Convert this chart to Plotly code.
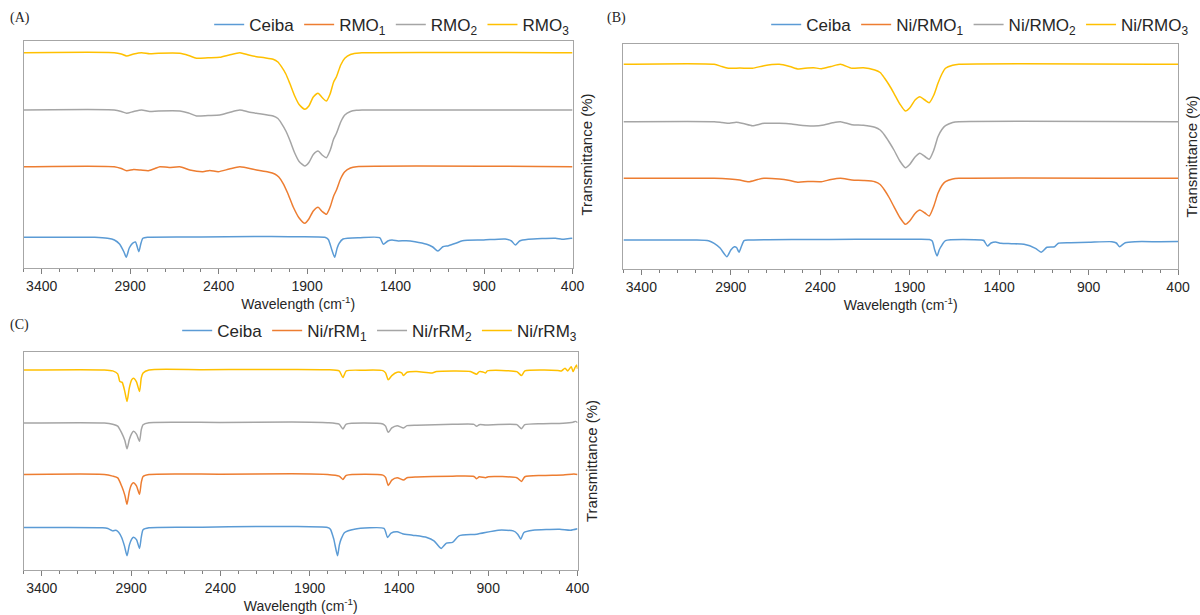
import plotly.graph_objects as go

# ---------------- DATA (arbitrary offset transmittance units) -------------
# Panel A
A_names = ["Ceiba", "RMO<sub>1</sub>", "RMO<sub>2</sub>", "RMO<sub>3</sub>"]
A_ceiba_wn = [3500, 3100, 3028, 2989, 2960, 2935, 2922, 2905, 2887, 2870, 2851, 2840, 2828, 2800, 2500, 2200,
              2000, 1800, 1780, 1760, 1744, 1730, 1719, 1697, 1600, 1490, 1469, 1444, 1420, 1385, 1340, 1290,
              1224, 1190, 1161, 1133, 1101, 1060, 1022, 902, 780, 745, 723, 699, 650, 496, 460, 407, 400]
A_ceiba_t = [30.7, 30.7, 29.7, 28, 24, 16, 10.7, 20, 24.7, 26, 16.3, 24, 29.7, 30.7, 31, 31.5,
             31.3, 30.7, 28.5, 18, 10.7, 20, 24.7, 29, 30.3, 30.3, 23.7, 27, 28, 27, 27.3, 26.3,
             23.7, 21, 17, 21.3, 22.3, 24.7, 27.3, 28, 29, 27, 23, 27, 28.7, 29.7, 28.7, 29.7, 29.5]
A_rmo1_wn = [3500, 2990, 2950, 2920, 2880, 2840, 2797, 2760, 2732, 2680, 2619, 2563, 2489, 2450, 2402, 2340,
             2280, 2186, 2120, 2083, 2060, 2036, 2010, 1979, 1945, 1913, 1890, 1865, 1838, 1815, 1791, 1770,
             1750, 1734, 1710, 1687, 1655, 1621, 400]
A_rmo1_t = [101.3, 101.3, 99.5, 97.3, 98.5, 98, 97.3, 99.5, 101.3, 100.5, 101.3, 98, 96.3, 97.5, 96.3, 99,
            101.3, 98, 96, 94, 91, 84.7, 75, 61.3, 50, 44.7, 49, 57, 60.7, 56.5, 53.7, 61,
            72, 78, 89.5, 96.3, 100, 101.3, 101.3]
A_rmo2_wn = [3500, 2990, 2950, 2920, 2880, 2835, 2790, 2740, 2619, 2570, 2525, 2460, 2393, 2340, 2280, 2230,
             2186, 2140, 2092, 2065, 2045, 2020, 1998, 1970, 1945, 1913, 1890, 1865, 1838, 1815, 1791, 1770,
             1750, 1734, 1710, 1687, 1655, 1621, 1590, 400]
A_rmo2_t = [158, 158, 156.5, 154.7, 156.5, 158, 156.5, 157, 157, 155, 152, 152.5, 153, 155.5, 158, 156,
            154.7, 153.5, 152, 149.5, 144.7, 137, 128, 115, 106.5, 102, 105.5, 113.5, 117, 113, 110.3, 117.5,
            129, 134.7, 146, 153, 156.5, 157.7, 158, 158]
A_rmo3_wn = A_rmo2_wn
A_rmo3_t = [215.3, 215.3, 214, 212, 214, 215.3, 214.2, 214.7, 214.7, 212.5, 209.7, 210.2, 210.7, 213, 215.3, 213,
            211.3, 210.2, 208.7, 206, 201.3, 194, 184.7, 172, 163.5, 158.7, 162, 171, 174.7, 170.5, 167, 174,
            186, 191.3, 203, 209.7, 213.5, 214.7, 215.3, 215.3]

# Panel B
B_names = ["Ceiba", "Ni/RMO<sub>1</sub>", "Ni/RMO<sub>2</sub>", "Ni/RMO<sub>3</sub>"]
B_ceiba_wn = [3500, 3100, 3025, 2993, 2960, 2922, 2900, 2880, 2868, 2854, 2840, 2826, 2800, 2500, 2200, 1900,
              1790, 1774, 1760, 1747, 1735, 1725, 1700, 1500, 1486, 1465, 1445, 1420, 1390, 1330, 1261, 1197,
              1165, 1133, 1090, 1069, 1000, 898, 770, 745, 727, 695, 640, 500, 400]
B_ceiba_t = [29, 29, 28.3, 25.7, 21, 12.3, 19, 22.3, 21.5, 16.7, 23, 28.3, 29, 29.5, 29.7, 29.7,
             29.5, 28, 19, 13, 19, 22.3, 28.3, 29, 28.5, 23, 26, 27, 25.7, 25.3, 24.7, 20.7,
             16.7, 21.7, 22.3, 25.7, 26.2, 26.7, 27.3, 26, 22.3, 26.3, 27.3, 27.3, 27.5]
B_rmo1_wn = [3500, 2993, 2907, 2850, 2800, 2750, 2715, 2629, 2570, 2522, 2470, 2394, 2340, 2287, 2223, 2159,
             2095, 2065, 2041, 2015, 1988, 1955, 1924, 1900, 1870, 1843, 1815, 1791, 1765, 1742, 1720, 1700,
             1660, 1625, 400]
B_rmo1_t = [90.7, 90.7, 90, 89, 87.3, 89.5, 90.7, 90, 88.5, 86.7, 87.5, 87.3, 89.5, 90.7, 89, 88.5,
            87.3, 84.5, 79, 71.5, 62.3, 51.5, 44.7, 48, 55.5, 59, 56, 53, 63, 75.7, 83.5, 87.3,
            90, 90.7, 90.7]
B_rmo2_wn = [3500, 2993, 2950, 2907, 2870, 2830, 2779, 2715, 2629, 2560, 2522, 2437, 2380, 2330, 2287, 2223,
             2159, 2095, 2065, 2041, 2015, 1988, 1955, 1924, 1900, 1870, 1843, 1815, 1791, 1765, 1742, 1720,
             1700, 1660, 1625, 400]
B_rmo2_t = [147.3, 147.3, 146.5, 145.7, 146.7, 145.5, 143.3, 145.7, 145.7, 145, 144, 143, 144, 146.2, 147.3, 144.3,
            143.7, 141.7, 139, 134, 127, 119, 108, 101.3, 104.5, 112, 115.7, 112.5, 109.7, 119, 132.3, 139.5,
            143.3, 146.5, 147.3, 147.3]
B_rmo3_wn = [3500, 2993, 2950, 2907, 2850, 2779, 2715, 2629, 2570, 2522, 2470, 2437, 2394, 2340, 2287, 2223,
             2159, 2095, 2065, 2041, 2015, 1988, 1955, 1924, 1900, 1870, 1843, 1815, 1791, 1765, 1742, 1720,
             1700, 1660, 1625, 400]
B_rmo3_t = [204.7, 204.7, 202.5, 200.7, 201, 200.7, 203.3, 204.7, 202.5, 200, 201, 201.3, 200.3, 202.5, 204.7, 200.7,
            201.3, 199, 196.5, 191, 184, 175.7, 165, 158, 161, 169, 172.3, 169, 166.3, 174, 185.7, 195,
            200.7, 203.7, 204.7, 204.7]

# Panel C
C_names = ["Ceiba", "Ni/rRM<sub>1</sub>", "Ni/rRM<sub>2</sub>", "Ni/rRM<sub>3</sub>"]
C_ceiba_wn = [3500, 3060, 3030, 3003, 2985, 2970, 2953, 2937, 2923, 2910, 2897, 2887, 2870, 2853, 2843, 2833,
              2800, 2500, 2200, 2000, 1800, 1784, 1765, 1744, 1734, 1724, 1704, 1650, 1484, 1464, 1444, 1410,
              1380, 1324, 1244, 1204, 1164, 1134, 1100, 1064, 964, 844, 760, 735, 718, 700, 650, 500, 440, 400]
C_ceiba_t = [42.7, 42.5, 41.7, 39.3, 40, 38, 32.7, 24, 14.3, 25, 31, 33, 30.5, 21.7, 33, 40.5,
             42.5, 43, 43.7, 43.7, 42.7, 41, 31, 14.3, 25, 31, 37.7, 41, 41.7, 32.7, 37, 38.3,
             36.5, 35, 32.7, 29.3, 21.7, 27, 27.7, 34.3, 36, 40, 39.3, 36, 31, 37.7, 40, 41, 40, 41.5]
C_rm1_wn = [3500, 3050, 3003, 2975, 2953, 2935, 2923, 2910, 2897, 2887, 2870, 2853, 2843, 2833, 2800, 2400,
            2000, 1800, 1735, 1714, 1695, 1490, 1475, 1460, 1440, 1410, 1374, 1355, 1300, 1100, 980, 965,
            950, 915, 900, 740, 714, 695, 600, 480, 420, 400]
C_rm1_t = [96, 96, 94.3, 92.5, 84.3, 75, 66, 79, 86, 87.7, 84.5, 76, 88, 94, 96, 96.3,
           96.7, 96, 94.3, 91, 95, 95.3, 93, 85, 90.3, 92.7, 90.3, 92.7, 93.5, 94.3, 94, 91.7,
           93.7, 92.7, 93.7, 92.7, 89, 93.7, 95, 95.5, 96.5, 96]
C_rm2_wn = [3500, 3050, 3003, 2975, 2953, 2935, 2923, 2910, 2897, 2887, 2870, 2853, 2843, 2833, 2800, 2400,
            2000, 1800, 1735, 1714, 1695, 1490, 1475, 1460, 1440, 1410, 1374, 1355, 1300, 1100, 980, 965,
            950, 915, 740, 714, 695, 600, 480, 425, 410, 400]
C_rm2_t = [147.7, 147.7, 146.5, 144.5, 137.7, 130, 121.7, 131, 137, 139.3, 136.5, 129.3, 141, 146, 148, 148.2,
           148.7, 148, 146.5, 141.7, 146.5, 146.7, 144.5, 138.3, 142.7, 145, 142.7, 145, 145.5, 146.3, 146.3, 144.3,
           146, 145.7, 146, 142, 146, 147, 147.5, 148.5, 149.3, 148]
C_rm3_wn = [3500, 3050, 3003, 2975, 2963, 2950, 2935, 2923, 2910, 2897, 2887, 2870, 2853, 2843, 2833, 2800,
            2500, 2200, 2000, 1800, 1735, 1714, 1695, 1600, 1490, 1475, 1460, 1440, 1410, 1385, 1374, 1355,
            1300, 1214, 1190, 1000, 965, 950, 930, 915, 905, 740, 714, 695, 600, 510, 490, 470, 455, 435,
            425, 415, 405, 400]
C_rm3_t = [201, 201, 200, 197, 189.3, 188.5, 179, 169.3, 183, 191, 192.7, 189, 179.3, 193, 198, 201,
           201.2, 201.5, 201.5, 201.2, 200, 193.3, 200, 200.7, 200.3, 198, 191, 195.3, 198.7, 198, 195.3, 198.7,
           199.3, 198, 199.3, 199.3, 196.7, 199.3, 199, 198, 200, 199.3, 195.3, 200, 201, 200.5, 200, 202.7, 200, 204.3,
           199.3, 203, 206, 202]

COLORS = ["#5B9BD5", "#ED7D31", "#A5A5A5", "#FFC000"]

# layout positions are expressed in reference-picture pixels (1200 x 615)
REF_W, REF_H = 1200, 615
FIG_W, FIG_H = 1211, 615


def fx(p):
    return p / REF_W


def fy(p):
    return 1 - p / REF_H


panels = [
    dict(names=A_names, x=[A_ceiba_wn, A_rmo1_wn, A_rmo2_wn, A_rmo3_wn],
         y=[A_ceiba_t, A_rmo1_t, A_rmo2_t, A_rmo3_t], yr=[0, 227],
         xdom=[fx(24), fx(573)], ydom=[fy(268), fy(41)], label="(A)", lab=(8, 18),
         leg=(392, 25)),
    dict(names=B_names, x=[B_ceiba_wn, B_rmo1_wn, B_rmo2_wn, B_rmo3_wn],
         y=[B_ceiba_t, B_rmo1_t, B_rmo2_t, B_rmo3_t], yr=[0, 225],
         xdom=[fx(624), fx(1179)], ydom=[fy(269), fy(44)], label="(B)", lab=(606, 18),
         leg=(981, 25)),
    dict(names=C_names, x=[C_ceiba_wn, C_rm1_wn, C_rm2_wn, C_rm3_wn],
         y=[C_ceiba_t, C_rm1_t, C_rm2_t, C_rm3_t], yr=[0, 219],
         xdom=[fx(24), fx(578)], ydom=[fy(570), fy(352)], label="(C)", lab=(8, 325),
         leg=(380, 331)),
]

FONT = "Liberation Sans, Arial, sans-serif"
fig = go.Figure()
layout = dict(
    width=FIG_W, height=FIG_H, autosize=False, margin=dict(l=0, r=0, t=0, b=0, pad=0),
    paper_bgcolor="white", plot_bgcolor="white",
    font=dict(family=FONT, color="#262626"),
    annotations=[],
)

for i, p in enumerate(panels):
    n = "" if i == 0 else str(i + 1)
    legname = "legend" + n
    for k in range(4):
        fig.add_trace(go.Scatter(
            x=p["x"][k], y=p["y"][k], mode="lines", name=p["names"][k],
            line=dict(color=COLORS[k], width=1.5, shape="spline", smoothing=0.6),
            xaxis="x" + n, yaxis="y" + n, legend=legname,
        ))
    layout["xaxis" + n] = dict(
        domain=p["xdom"], anchor="y" + n, range=[3500, 400],
        showline=True, linecolor="#A6A6A6", linewidth=1, mirror=True,
        showgrid=False, zeroline=False,
        ticks="outside", ticklen=5, tickcolor="#7F7F7F", tick0=400, dtick=500,
        minor=dict(ticks="outside", ticklen=3, tickcolor="#7F7F7F", dtick=100, tick0=400, showgrid=False),
        tickfont=dict(size=14, family=FONT, color="#262626"),
        title=dict(text="Wavelength (cm<sup>-1</sup>)", font=dict(size=14, family=FONT, color="#262626"),
                   standoff=0),
    )
    layout["yaxis" + n] = dict(
        domain=p["ydom"], anchor="x" + n, range=p["yr"], side="right",
        showline=True, linecolor="#A6A6A6", linewidth=1, mirror=True,
        showgrid=False, zeroline=False, showticklabels=False, ticks="",
        title=dict(text="Transmittance (%)", font=dict(size=15, family=FONT, color="#262626"), standoff=8),
    )
    layout[legname] = dict(
        orientation="h", x=fx(p["leg"][0]), y=fy(p["leg"][1]), xanchor="center", yanchor="middle",
        font=dict(size=17, family=FONT, color="#262626"), bgcolor="rgba(0,0,0,0)",
        itemwidth=30, tracegroupgap=0,
    )
    layout["annotations"].append(dict(
        text=p["label"], xref="paper", yref="paper",
        x=fx(p["lab"][0]), y=fy(p["lab"][1]),
        xanchor="left", yanchor="middle", showarrow=False,
        font=dict(size=14, family="Liberation Serif, Times New Roman, serif", color="#262626"),
    ))

fig.update_layout(**layout)
fig.write_html(
    "out.html",
    config={"displayModeBar": False, "responsive": False},
    post_script="document.body.style.margin='0';document.body.style.overflow='hidden';",
)
